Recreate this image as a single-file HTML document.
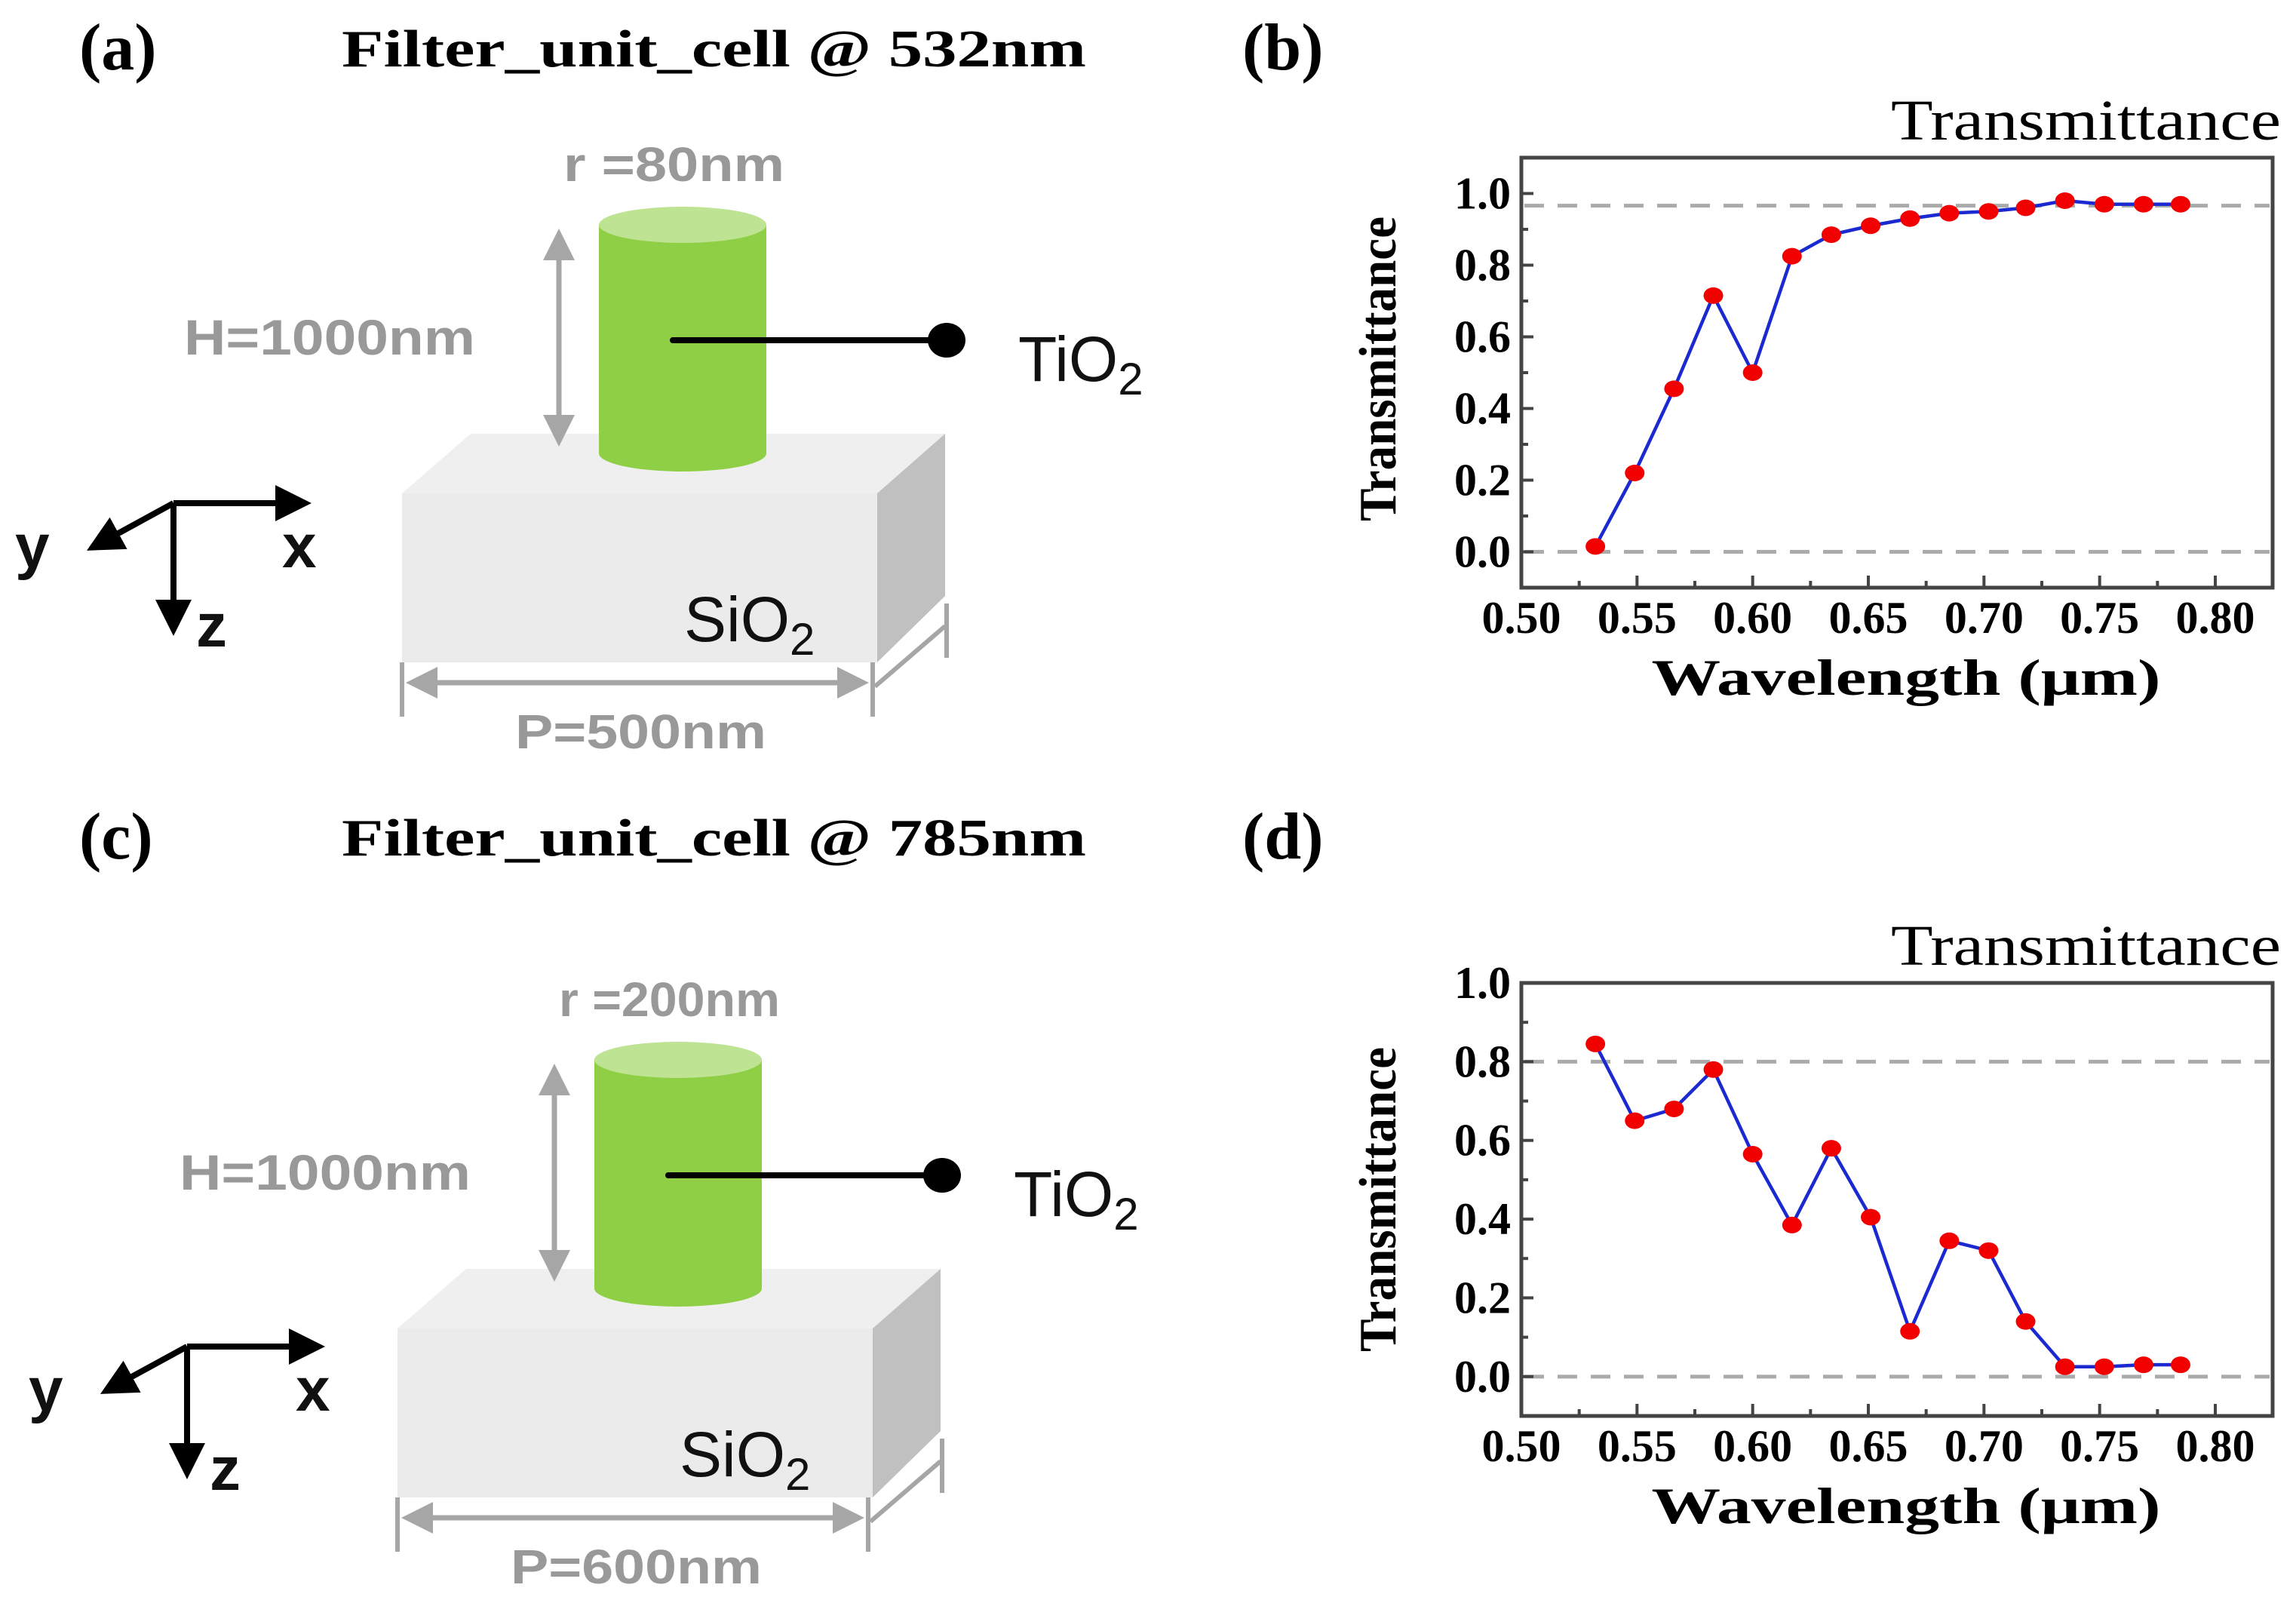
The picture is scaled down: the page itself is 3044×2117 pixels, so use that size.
<!DOCTYPE html>
<html><head><meta charset="utf-8"><style>
html,body{margin:0;padding:0;background:#fff}
svg{display:block}
.hdr{font-family:"Liberation Serif",serif;font-weight:bold}
.gl{font-family:"Liberation Sans",sans-serif;fill:#999;font-weight:bold}
.bl{font-family:"Liberation Sans",sans-serif;fill:#111}
</style></head><body>
<svg id="fig" width="3044" height="2117" viewBox="0 0 3044 2117" xmlns="http://www.w3.org/2000/svg">
<defs>
<marker id="ga" markerWidth="6" markerHeight="6" refX="5" refY="3" orient="auto-start-reverse" markerUnits="strokeWidth"><path d="M0,0 L6,3 L0,6 z" fill="#a6a6a6"/></marker>
<marker id="ka" markerWidth="6" markerHeight="6" refX="5" refY="3" orient="auto" markerUnits="strokeWidth"><path d="M0,0 L6,3 L0,6 z" fill="#000"/></marker>
</defs>

<g id="panelA"></g>
<g id="panelC"></g>
<g id="chartB"></g>
<g id="chartD"></g>
</svg>
<script>
const NS="http://www.w3.org/2000/svg";
// ---- chart data ----
const wavelengths=[0.532,0.549,0.566,0.583,0.600,0.617,0.634,0.651,0.668,0.685,0.702,0.718,0.735,0.752,0.769,0.785];
const transB=[0.015,0.22,0.455,0.715,0.50,0.825,0.885,0.91,0.93,0.945,0.95,0.96,0.98,0.97,0.97,0.97];
const transD=[0.845,0.65,0.68,0.78,0.565,0.385,0.58,0.405,0.115,0.345,0.32,0.14,0.025,0.025,0.03,0.03];
const refLinesB=[0.966,0.0];
const refLinesD=[0.80,0.0];
const xTicks=[0.50,0.55,0.60,0.65,0.70,0.75,0.80];
const xTickLabels=["0.50","0.55","0.60","0.65","0.70","0.75","0.80"];
const yTicks=[0.0,0.2,0.4,0.6,0.8,1.0];
const yTickLabels=["0.0","0.2","0.4","0.6","0.8","1.0"];

function el(tag,attrs,parent,text){const e=document.createElementNS(NS,tag);for(const k in attrs)e.setAttribute(k,attrs[k]);if(text!==undefined)e.textContent=text;parent.appendChild(e);return e;}

function diagram(g,dx,dy,adx,ady,hdy,letter,title,rText,pText){
  const H=el('g',{transform:`translate(0,${hdy})`},g);
  let t=el('text',{x:105,y:92,'font-size':88,class:'hdr'},H,letter);
  
  
  t=el('text',{x:453,y:88,'font-size':70,class:'hdr',textLength:987,lengthAdjust:'spacingAndGlyphs'},H,title);
  
  
  const D=el('g',{transform:`translate(${dx},${dy})`},g);
  let p=el('polygon',{points:'533,654 624,575 1253,575 1163,654',fill:'#efefef'},D);
  
  
  p=el('rect',{x:533,y:654,width:630,height:224,fill:'#ebebeb'},D);
  
  
  p=el('polygon',{points:'1163,654 1253,575 1253,790 1163,878',fill:'#c0c0c0'},D);
  
  
  const C=el('g',{},D);
  
  
  el('ellipse',{cx:905,cy:601,rx:111,ry:24,fill:'#8fcf45'},C);
  el('rect',{x:794,y:298,width:222,height:303,fill:'#8fcf45'},C);
  el('ellipse',{cx:905,cy:298,rx:111,ry:24,fill:'#bde393'},C);
  p=el('line',{x1:741,y1:310,x2:741,y2:585,stroke:'#a6a6a6','stroke-width':7,'marker-start':'url(#ga)','marker-end':'url(#ga)'},D);
  
  
  t=el('text',{x:244,y:470,'font-size':66,class:'gl',textLength:386,lengthAdjust:'spacingAndGlyphs'},D,'H=1000nm');
  
  
  t=el('text',{x:747,y:240,'font-size':64,class:'gl',textLength:293,lengthAdjust:'spacingAndGlyphs'},D,rText);
  
  
  el('line',{x1:892,y1:451,x2:1250,y2:451,stroke:'#000','stroke-width':8,'stroke-linecap':'round'},D);
  el('ellipse',{cx:1255,cy:451,rx:25,ry:23,fill:'#000'},D);
  t=el('text',{x:1350,y:505,'font-size':84,class:'bl'},D);
  
  
  t.innerHTML='TiO<tspan font-size="60" dy="18">2</tspan>';
  t=el('text',{x:907,y:850,'font-size':84,class:'bl'},D);
  
  
  t.innerHTML='SiO<tspan font-size="60" dy="18">2</tspan>';
  el('line',{x1:533,y1:878,x2:533,y2:950,stroke:'#a6a6a6','stroke-width':6},D);
  el('line',{x1:1157,y1:878,x2:1157,y2:950,stroke:'#a6a6a6','stroke-width':6},D);
  p=el('line',{x1:545,y1:905,x2:1145,y2:905,stroke:'#a6a6a6','stroke-width':7,'marker-start':'url(#ga)','marker-end':'url(#ga)'},D);
  
  
  el('line',{x1:1160,y1:910,x2:1253,y2:830,stroke:'#a6a6a6','stroke-width':6},D);
  el('line',{x1:1255,y1:800,x2:1255,y2:872,stroke:'#a6a6a6','stroke-width':6},D);
  t=el('text',{x:683,y:992,'font-size':64,class:'gl',textLength:333,lengthAdjust:'spacingAndGlyphs'},D,pText);
  
  
  const A=el('g',{transform:`translate(${adx},${ady})`},g);
  
  
  el('line',{x1:230,y1:667,x2:405,y2:667,stroke:'#000','stroke-width':8,'marker-end':'url(#ka)'},A);
  el('line',{x1:230,y1:667,x2:230,y2:835,stroke:'#000','stroke-width':8,'marker-end':'url(#ka)'},A);
  el('line',{x1:230,y1:667,x2:122,y2:726,stroke:'#000','stroke-width':8,'marker-end':'url(#ka)'},A);
  el('text',{x:20,y:752,'font-size':82,'font-weight':'bold',class:'bl'},A,'y');
  el('text',{x:374,y:752,'font-size':82,'font-weight':'bold',class:'bl'},A,'x');
  el('text',{x:260,y:857,'font-size':82,'font-weight':'bold',class:'bl'},A,'z');
}
diagram(document.getElementById('panelA'),0,0,0,0,0,'(a)','Filter_unit_cell @ 532nm','r =80nm','P=500nm');
diagram(document.getElementById('panelC'),-6,1107,18,1118,1046,'(c)','Filter_unit_cell @ 785nm','r =200nm','P=600nm');

function chart(g,vals,refs,box,yTop,yBot,hdy,letter){
  const L=box.l,R=box.r,T=box.t,B=box.b;
  const xs=v=>L+(v-0.5)/(0.8-0.5)*(2937-2017);
  const ys=v=>T+(yTop-v)/(yTop-yBot)*(B-T);
  let t=el('text',{x:1647,y:92+hdy,'font-size':88,class:'hdr'},g,letter);
  
  
  t=el('text',{x:2507,y:T-24,'font-size':76,'font-family':'Liberation Serif, serif',textLength:517,lengthAdjust:'spacingAndGlyphs'},g,'Transmittance');
  
  
  refs.forEach(r=>{const l=el('line',{x1:L+4,x2:R-4,y1:ys(r),y2:ys(r),stroke:'#aaa','stroke-width':5,'stroke-dasharray':'26 18'},g);
    
    });
  const f=el('rect',{x:L,y:T,width:R-L,height:B-T,fill:'none',stroke:'#444','stroke-width':5},g);
  
  
  for(let i=0;i<=12;i++){const v=0.5+i*0.025;const x=xs(v);el('line',{x1:x,x2:x,y1:B,y2:B-(i%2?9:16),stroke:'#444','stroke-width':4},g);}
  xTicks.forEach((v,i)=>{const tx=el('text',{x:xs(v),y:B+60,'font-size':60,'text-anchor':'middle',class:'hdr'},g,xTickLabels[i]);
    
    });
  for(let v=-0.1;v<=yTop+1e-6;v+=0.1){const y=ys(v);const major=Math.abs(Math.round(v*10))%2===0;el('line',{x1:L,x2:L+(major?16:9),y1:y,y2:y,stroke:'#444','stroke-width':4},g);}
  yTicks.forEach((v,i)=>{const ty=el('text',{x:L-14,y:ys(v)+20,'font-size':60,'text-anchor':'end',class:'hdr'},g,yTickLabels[i]);
    
    });
  t=el('text',{x:2527,y:B+142,'font-size':68,'text-anchor':'middle',class:'hdr',textLength:675,lengthAdjust:'spacingAndGlyphs'},g,'Wavelength (μm)');
  
  
  t=el('text',{x:0,y:0,'font-size':70,'text-anchor':'middle',class:'hdr',textLength:404,lengthAdjust:'spacingAndGlyphs',transform:`translate(1850,${(T+B)/2-(hdy?-5:0)-5}) rotate(-90)`},g,'Transmittance');
  
  
  const pts=wavelengths.map((w,i)=>xs(w)+','+ys(vals[i])).join(' ');
  const pl=el('polyline',{points:pts,fill:'none',stroke:'#1a2ad0','stroke-width':4.5},g);
  
  
  wavelengths.forEach((w,i)=>{const c=el('ellipse',{cx:xs(w),cy:ys(vals[i]),rx:13,ry:11,fill:'#f20000'},g);
    
    });
}
chart(document.getElementById('chartB'),transB,refLinesB,{l:2017,r:3013,t:209,b:779},1.1,-0.1,0,'(b)');
chart(document.getElementById('chartD'),transD,refLinesD,{l:2017,r:3013,t:1303,b:1877},1.0,-0.1,1046,'(d)');
</script>
</body></html>
